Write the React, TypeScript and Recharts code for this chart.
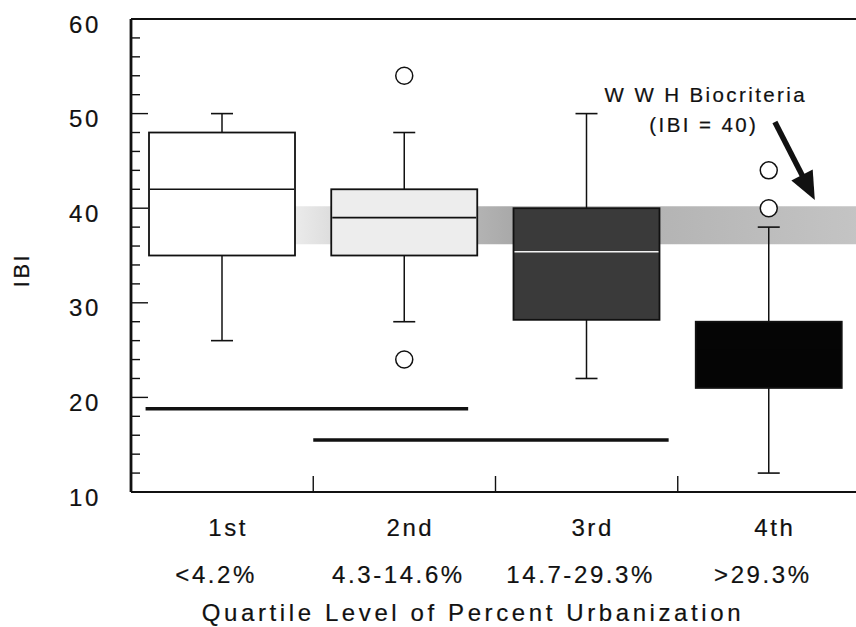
import React from 'react';
import {
  ComposedChart,
  XAxis,
  YAxis,
  Bar,
  ReferenceArea,
  ReferenceLine,
  ReferenceDot,
  Label,
} from 'recharts';

// Urbanization quartiles and their ranges
const quartileNames = ['1st', '2nd', '3rd', '4th'];
const urbanizationRanges = ['<4.2%', '4.3-14.6%', '14.7-29.3%', '>29.3%'];
const categoryCenters = [0.5, 1.5, 2.5, 3.5];
const categoryBounds = [1, 2, 3];

// IBI box-plot statistics per quartile
const whiskerLow = [26, 28, 22, 12];
const lowerQuartile = [35, 35, 28.2, 21];
const medianIbi = [42, 39, 35.4, 25];
const upperQuartile = [48, 42, 40, 28];
const whiskerHigh = [50, 48, 50, 38];
const outlierIbi = [[], [54, 24], [], [44, 40]];

// IBI axis ticks
const ibiMajorTicks = [10, 20, 30, 40, 50, 60];
const ibiMinorTicks = [12, 14, 16, 18, 22, 24, 26, 28, 32, 34, 36, 38, 42, 44, 46, 48, 52, 54, 56, 58];

// WWH biocriteria band (IBI) and where it begins along the quartile axis
const wwhBand = [36.2, 40.2];
const wwhBandStart = 0.9;

// Groups not significantly different: [from, to, IBI level]
const groupingA = [0.08, 1.85, 18.8];
const groupingB = [1.0, 2.95, 15.5];

// Callout text and arrow, in quartile / IBI units
const calloutTitle = 'W W H Biocriteria';
const calloutValue = '(IBI = 40)';
const calloutTitleAt = [3.154, 52.0];
const calloutValueAt = [3.143, 48.8];
const arrowFrom = [3.533, 49.1];
const arrowTo = [3.752, 40.87];

const FONT = "'Liberation Sans', Arial, Helvetica, sans-serif";
const INK = '#111111';

const boxFills = ['#ffffff', '#ededed', '#3a3a3a', '#050505'];
const medianStrokes = [INK, INK, '#f4f4f4', '#050505'];

const textStyle = {
  fontFamily: FONT,
  fill: INK,
  stroke: INK,
  strokeWidth: 0.2,
};

const boxData = quartileNames.map((name, i) => ({
  name,
  pos: categoryCenters[i],
  range: [lowerQuartile[i], upperQuartile[i]],
}));

const allIbiTicks = [...ibiMajorTicks, ...ibiMinorTicks].sort((a, b) => a - b);

const BoxShape = (props: any) => {
  const { x, y, width, height, index } = props;
  const lo = lowerQuartile[index];
  const hi = upperQuartile[index];
  const unit = height / (hi - lo);
  const yOf = (v: number) => y + (hi - v) * unit;
  const cx = x + width / 2;
  const cap = 11;
  return (
    <g>
      <line x1={cx} x2={cx} y1={yOf(whiskerHigh[index])} y2={y} stroke={INK} strokeWidth={1.5} />
      <line x1={cx - cap} x2={cx + cap} y1={yOf(whiskerHigh[index])} y2={yOf(whiskerHigh[index])} stroke={INK} strokeWidth={1.6} />
      <line x1={cx} x2={cx} y1={y + height} y2={yOf(whiskerLow[index])} stroke={INK} strokeWidth={1.5} />
      <line x1={cx - cap} x2={cx + cap} y1={yOf(whiskerLow[index])} y2={yOf(whiskerLow[index])} stroke={INK} strokeWidth={1.6} />
      <rect x={x} y={y} width={width} height={height} fill={boxFills[index]} stroke={INK} strokeWidth={1.8} />
      <line x1={x + 1} x2={x + width - 1} y1={yOf(medianIbi[index])} y2={yOf(medianIbi[index])} stroke={medianStrokes[index]} strokeWidth={1.6} />
      {outlierIbi[index].map((v, k) => (
        <circle key={k} cx={cx} cy={yOf(v)} r={8.5} fill="#ffffff" stroke={INK} strokeWidth={1.5} />
      ))}
    </g>
  );
};

const LeftTick = (props: any) => {
  const { x, y, payload } = props;
  const major = ibiMajorTicks.includes(payload.value);
  return (
    <g>
      <line x1={x} x2={x + (major ? 17 : 9)} y1={y} y2={y} stroke={INK} strokeWidth={1.4} />
      {major && (
        <text x={x - 30} y={y + 5} textAnchor="end" dominantBaseline="central" fontSize={24} letterSpacing={2.6} {...textStyle}>
          {payload.value}
        </text>
      )}
    </g>
  );
};

const RightTick = (props: any) => {
  const { x, y, payload } = props;
  const major = ibiMajorTicks.includes(payload.value);
  return <line x1={x} x2={x - (major ? 15 : 6)} y1={y} y2={y} stroke={INK} strokeWidth={1.4} />;
};

const BottomTick = (props: any) => {
  const { x, y, payload } = props;
  const v = payload.value;
  if (categoryBounds.includes(v)) {
    return <line x1={x} x2={x} y1={y} y2={y - 16} stroke={INK} strokeWidth={1.4} />;
  }
  const i = categoryCenters.indexOf(v);
  if (i < 0) return <g />;
  return (
    <g>
      <text x={x + 6} y={y + 35} textAnchor="middle" dominantBaseline="central" fontSize={24} letterSpacing={2.6} {...textStyle}>
        {quartileNames[i]}
      </text>
      <text x={x - 6} y={y + 82} textAnchor="middle" dominantBaseline="central" fontSize={24} letterSpacing={2.6} {...textStyle}>
        {urbanizationRanges[i]}
      </text>
    </g>
  );
};

const ArrowShape = (props: any) => {
  const { x1, y1, x2, y2 } = props;
  const dx = x2 - x1;
  const dy = y2 - y1;
  const len = Math.sqrt(dx * dx + dy * dy);
  const ux = dx / len;
  const uy = dy / len;
  const headLen = 28;
  const headHalf = 12;
  const bx = x2 - ux * headLen;
  const by = y2 - uy * headLen;
  return (
    <g>
      <line x1={x1} y1={y1} x2={bx + ux * 2} y2={by + uy * 2} stroke={INK} strokeWidth={5.5} />
      <polygon
        points={`${x2},${y2} ${bx - uy * headHalf},${by + ux * headHalf} ${bx + uy * headHalf},${by - ux * headHalf}`}
        fill={INK}
      />
    </g>
  );
};

const CalloutText = (text: string) => (props: any) => (
  <text x={props.cx} y={props.cy} textAnchor="middle" dominantBaseline="central" fontSize={20.5} letterSpacing={2.4} {...textStyle}>
    {text}
  </text>
);

export default function App() {
  return (
    <div style={{ position: 'absolute', left: 0, top: 0, width: 856, height: 627, overflow: 'hidden', background: '#ffffff' }}>
      <ComposedChart width={862} height={627} data={boxData} margin={{ top: 19, right: 2, bottom: 0, left: 0 }}>
        <defs>
          <linearGradient id="wwhShade" x1="0" x2="1" y1="0" y2="0">
            <stop offset="0%" stopColor="#ebebeb" />
            <stop offset="6%" stopColor="#dedede" />
            <stop offset="33%" stopColor="#b2b2b2" />
            <stop offset="39%" stopColor="#a8a8a8" />
            <stop offset="64%" stopColor="#b4b4b4" />
            <stop offset="100%" stopColor="#c4c4c4" />
          </linearGradient>
        </defs>
        <XAxis
          dataKey="pos"
          type="number"
          domain={[0, 4]}
          ticks={[0.5, 1, 1.5, 2, 2.5, 3, 3.5]}
          interval={0}
          height={135}
          tickSize={0}
          tickMargin={0}
          tickLine={false}
          axisLine={{ stroke: INK, strokeWidth: 2.2 }}
          tick={<BottomTick />}
          allowDataOverflow
        >
          <Label
            content={() => (
              <text x={473} y={612} textAnchor="middle" dominantBaseline="central" fontSize={24} letterSpacing={3.6} {...textStyle}>
                Quartile Level of Percent Urbanization
              </text>
            )}
          />
        </XAxis>
        <YAxis
          type="number"
          domain={[10, 60]}
          ticks={allIbiTicks}
          interval={0}
          width={131}
          tickSize={0}
          tickMargin={0}
          tickLine={false}
          axisLine={{ stroke: INK, strokeWidth: 2.8 }}
          tick={<LeftTick />}
          allowDataOverflow
        >
          <Label
            content={() => (
              <text x={21} y={270} textAnchor="middle" dominantBaseline="central" transform="rotate(-90 21 270)" fontSize={22} letterSpacing={2.5} {...textStyle}>
                IBI
              </text>
            )}
          />
        </YAxis>
        <YAxis
          yAxisId="r"
          orientation="right"
          type="number"
          domain={[10, 60]}
          ticks={allIbiTicks}
          interval={0}
          width={0}
          tickSize={0}
          tickMargin={0}
          tickLine={false}
          axisLine={{ stroke: INK, strokeWidth: 2 }}
          tick={<RightTick />}
        />
        <ReferenceLine y={60} stroke={INK} strokeWidth={2.2} ifOverflow="visible" />
        <ReferenceArea
          x1={wwhBandStart}
          x2={4}
          y1={wwhBand[0]}
          y2={wwhBand[1]}
          fill="url(#wwhShade)"
          fillOpacity={1}
          stroke="none"
          ifOverflow="visible"
        />
        <Bar dataKey="range" barSize={146} shape={<BoxShape />} isAnimationActive={false} />
        <ReferenceLine
          segment={[{ x: groupingA[0], y: groupingA[2] }, { x: groupingA[1], y: groupingA[2] }]}
          stroke={INK}
          strokeWidth={3.6}
          ifOverflow="visible"
        />
        <ReferenceLine
          segment={[{ x: groupingB[0], y: groupingB[2] }, { x: groupingB[1], y: groupingB[2] }]}
          stroke={INK}
          strokeWidth={3.6}
          ifOverflow="visible"
        />
        <ReferenceLine
          segment={[{ x: arrowFrom[0], y: arrowFrom[1] }, { x: arrowTo[0], y: arrowTo[1] }]}
          shape={<ArrowShape />}
          ifOverflow="visible"
        />
        <ReferenceDot x={calloutTitleAt[0]} y={calloutTitleAt[1]} r={0} shape={CalloutText(calloutTitle)} ifOverflow="visible" />
        <ReferenceDot x={calloutValueAt[0]} y={calloutValueAt[1]} r={0} shape={CalloutText(calloutValue)} ifOverflow="visible" />
      </ComposedChart>
    </div>
  );
}
